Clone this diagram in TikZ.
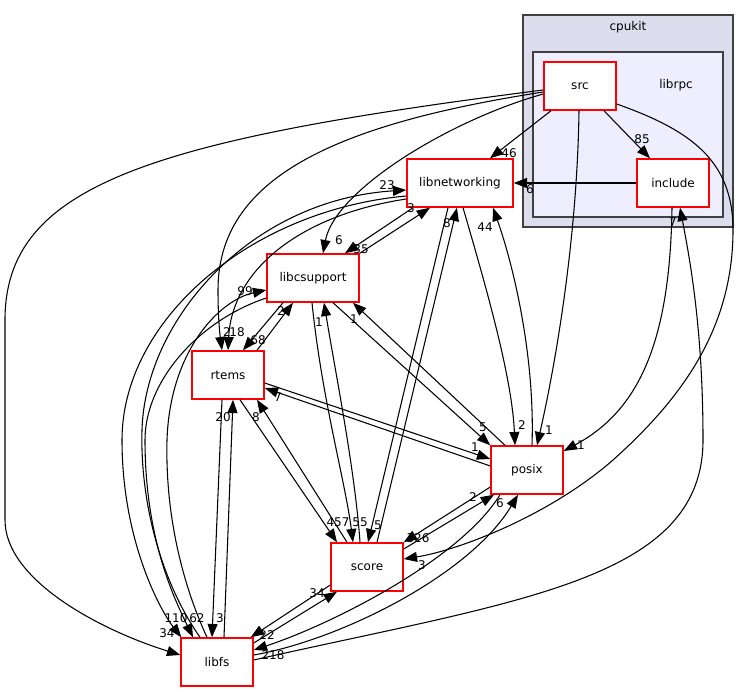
\documentclass[tikz,border=0pt]{standalone}
\usepackage{fontspec}
\setmainfont{DejaVu Sans}
\usepackage{tikz}
\usetikzlibrary{calc, arrows.meta}
\definecolor{dirRed}{RGB}{255, 0, 0}
\definecolor{dirOuter}{RGB}{221, 221, 238}
\definecolor{dirInner}{RGB}{238, 238, 255}
\definecolor{dirLine}{RGB}{64, 64, 64}
\tikzset{
    base/.style={
        font=\fontsize{9}{10}\selectfont
    },
    dir/.style={
        base,
        rectangle,
        draw=dirRed,
        fill=white,
        line width=1.1pt,
        inner sep=0pt,
        minimum width=54pt,
        minimum height=36pt
    },
    cluster/.style={
        draw=dirLine,
        line width=1pt
    },
    dep/.style={
        -{Triangle[length=10pt, width=7.5pt]},
        line width=0.8pt,
        black
    },
    count/.style={
        base,
        inner sep=0pt
    }
}

\begin{document}
\begin{tikzpicture}[x=0.75pt, y=-0.75pt]
    \useasboundingbox (0,0) rectangle (749,692);

    % Clusters
    \draw[cluster, fill=dirOuter] (523,15) rectangle (733,227);
    \node[base] (cpukit) at (628,27) {cpukit};
    \draw[cluster, fill=dirInner] (533,52) rectangle (723,217);
    \node[base] (librpc) at (676,85) {librpc};

    % Directories
    \node[dir] (src) at (580,86) {src};
    \node[dir] (include) at (673,183) {include};
    \node[dir, minimum width=79.5pt] (libnetworking) at (460,183) {libnetworking};
    \node[dir, minimum width=69pt] (libcsupport) at (313,278) {libcsupport};
    \node[dir] (rtems) at (228,375) {rtems};
    \node[dir] (posix) at (527,470) {posix};
    \node[dir] (score) at (367,567) {score};
    \node[dir] (libfs) at (217,662) {libfs};

    % From src
    \draw[dep] ($(src.south)+(-29,0)$) -- ($(libnetworking.north)+(30,0)$);
    \draw[dep] ($(src.south)+(24,0)$) -- ($(include.north)+(-23,0)$);
    \draw[dep] ($(src.south)+(-1,0)$) .. controls (577,250) and (552,380) .. ($(posix.north)+(10,0)$);
    \draw[dep] ($(src.east)+(0,18)$) .. controls (690,130) and (733,160) .. (733,230)
        .. controls (733,330) and (680,400) .. (613,460)
        .. controls (550,515) and (460,550) .. ($(score.east)+(0,-8)$);
    \draw[dep] ($(src.west)+(0,8)$) .. controls (450,120) and (335,190) .. ($(libcsupport.north)+(10,0)$);
    \draw[dep] ($(src.west)+(0,6)$) .. controls (330,125) and (218,180) .. (218,290)
        .. controls (218,320) and (220,335) .. ($(rtems.north)+(-6,0)$);
    \draw[dep] ($(src.west)+(0,4)$) .. controls (150,140) and (5,185) .. (5,320) -- (5,520)
        .. controls (5,580) and (100,630) .. ($(libfs.west)+(0,-7)$);

    % From include
    \draw[dep] (include.west) -- (libnetworking.east);
    \draw[dep] ($(include.south)+(-1,0)$) .. controls (670,340) and (640,410) .. ($(posix.east)+(0,-19)$);

    % libnetworking
    \draw[dep] ($(libnetworking.south)+(-47,0)$) -- ($(libcsupport.north)+(32,0)$);
    \draw[dep] (libcsupport.north east) -- ($(libnetworking.south)+(-30,0)$);
    \draw[dep] ($(libnetworking.west)+(0,16)$) .. controls (300,215) and (232,270) .. (rtems.north);
    \draw[dep] ($(libnetworking.west)+(0,13)$) .. controls (250,210) and (122,320) .. (122,440)
        .. controls (122,540) and (160,610) .. ($(libfs.north west)+(1,0)$);
    \draw[dep] ($(libfs.north)+(-17,0)$) .. controls (160,580) and (140,500) .. (142,430)
        .. controls (145,320) and (250,200) .. ($(libnetworking.west)+(0,7)$);
    \draw[dep] ($(libnetworking.south)+(-12,0)$) -- ($(score.north)+(1,0)$);
    \draw[dep] ($(score.north)+(10,0)$) -- ($(libnetworking.south)+(-3,0)$);
    \draw[dep] ($(libnetworking.south)+(3,0)$) .. controls (490,300) and (512,380) .. ($(posix.north)+(-12,0)$);
    \draw[dep] ($(posix.north)+(5,0)$) .. controls (535,360) and (515,270) .. ($(libnetworking.south)+(33,0)$);

    % libcsupport
    \draw[dep] ($(libcsupport.west)+(0,20)$) .. controls (200,320) and (145,380) .. (145,440)
        .. controls (145,540) and (175,600) .. ($(libfs.north)+(-24,0)$);
    \draw[dep] ($(libfs.north)+(-10,0)$) .. controls (185,590) and (165,520) .. (167,440)
        .. controls (170,350) and (220,300) .. ($(libcsupport.west)+(0,12)$);
    \draw[dep] ($(libcsupport.south)+(-30,0)$) -- ($(rtems.north)+(15,0)$);
    \draw[dep] ($(rtems.north)+(29,0)$) -- ($(libcsupport.south)+(-20,0)$);
    \draw[dep] ($(libcsupport.south)+(-1,0)$) .. controls (322,400) and (345,480) .. ($(score.north)+(-14,0)$);
    \draw[dep] ($(score.north)+(-7,0)$) .. controls (355,470) and (335,370) .. ($(libcsupport.south)+(11,0)$);
    \draw[dep] ($(libcsupport.south)+(20,0)$) -- (posix.north west);
    \draw[dep] ($(posix.north)+(-22,0)$) -- ($(libcsupport.south)+(40,0)$);

    % rtems
    \draw[dep] ($(rtems.east)+(0,8)$) -- ($(posix.west)+(0,-11)$);
    \draw[dep] ($(posix.west)+(0,-4)$) -- ($(rtems.east)+(0,13)$);
    \draw[dep] ($(rtems.south)+(12,0)$) -- ($(score.north)+(-30,0)$);
    \draw[dep] ($(score.north)+(-20,0)$) -- ($(rtems.south)+(29,0)$);
    \draw[dep] ($(rtems.south)+(-6,0)$) -- ($(libfs.north)+(-5,0)$);
    \draw[dep] ($(libfs.north)+(7,0)$) -- ($(rtems.south)+(5,0)$);

    % score, posix, libfs
    \draw[dep] ($(score.east)+(0,-18)$) -- ($(posix.south)+(-33,0)$);
    \draw[dep] ($(posix.west)+(0,17)$) -- (score.north east);
    \draw[dep] ($(score.west)+(0,18)$) -- ($(libfs.north east)+(-3,0)$);
    \draw[dep] ($(libfs.east)+(0,-19)$) -- ($(score.south)+(-30,0)$);
    \draw[dep] ($(posix.south)+(-27,0)$) .. controls (460,560) and (330,625) .. ($(libfs.east)+(0,-12)$);
    \draw[dep] ($(libfs.east)+(0,-7)$) .. controls (340,640) and (470,575) .. ($(posix.south)+(-9,0)$);
    \draw[dep] ($(libfs.east)+(0,-2)$) .. controls (520,600) and (703,580) .. (703,440)
        .. controls (703,330) and (690,260) .. ($(include.south)+(7,0)$);

    % Counts
    \foreach \n/\x/\y [count=\i] in {46/509/153, 85/642/139, 1/549/430, 3/422/565,
        6/339/240, 2/227/332, 34/167/633, 6/530/189, 1/581/445, 35/361/249,
        3/411/208, 18/237/332, 110/176/618, 62/197/618, 23/387/185, 99/245/291,
        68/258/340, 2/281/311, 1/475/447, 7/278/397, 457/338/522, 8/256/417,
        3/220/618, 20/223/417, 55/360/522, 1/319/322, 5/483/427, 1/354/319,
        5/378/525, 8/447/223, 2/522/425, 44/485/227, 2/473/497, 326/418/538,
        22/267/635, 34/317/593, 218/273/655, 6/500/503, 7/673/222} {
        \node[count] (c\i) at (\x,\y) {\n};
    }
\end{tikzpicture}
\end{document}
